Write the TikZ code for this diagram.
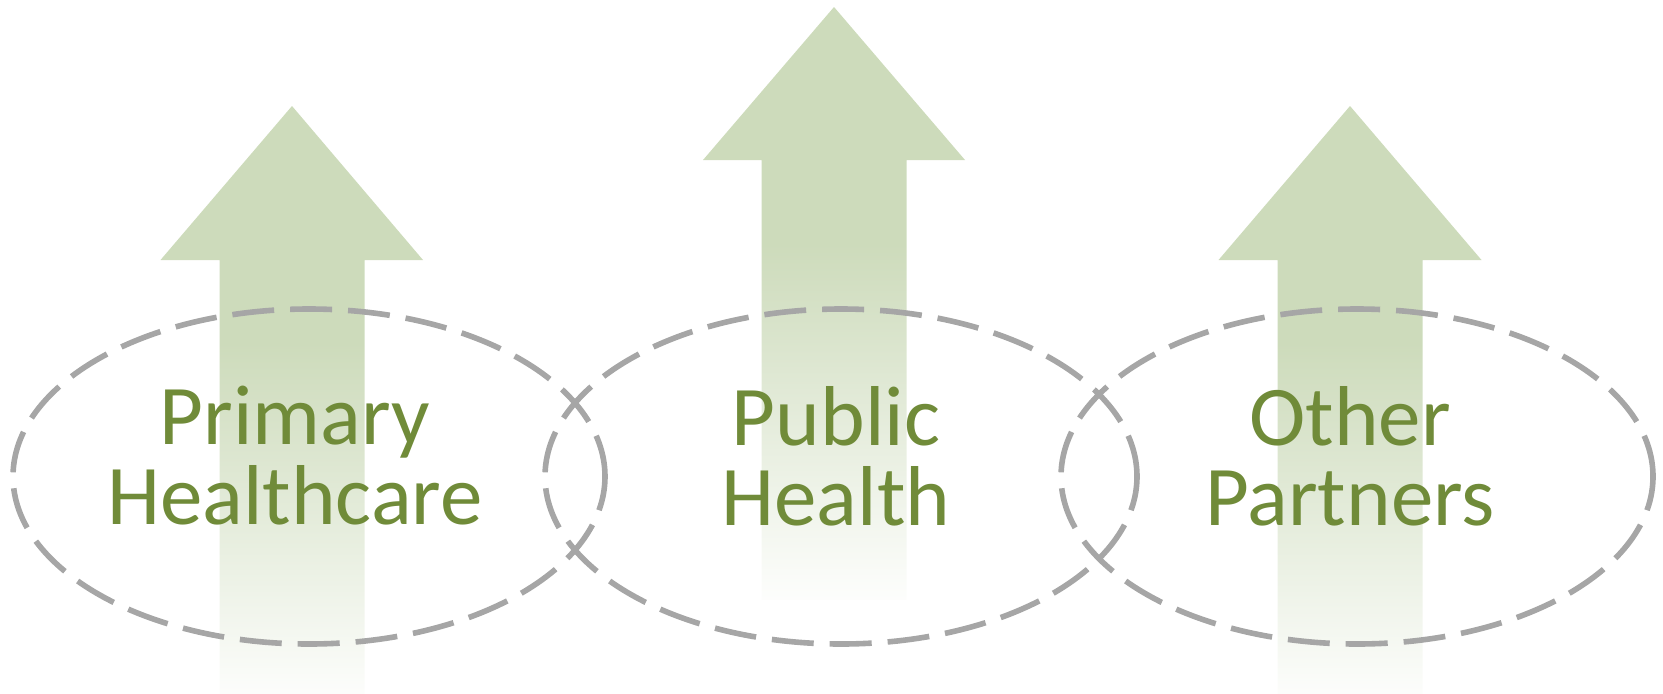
\documentclass[tikz,border=0pt]{standalone}
\usepackage{fontspec}
\setmainfont{Carlito}
\usepackage{tikz}
\usetikzlibrary{shapes.geometric}

\definecolor{arrowgreen}{RGB}{205,219,187}
\definecolor{labelgreen}{RGB}{112,139,57}
\definecolor{zonegray}{RGB}{166,166,166}
\colorlet{fadewhite}{arrowgreen!4!white}
\pgfdeclareverticalshading{greenfade}{100bp}{color(0bp)=(fadewhite); color(25bp)=(fadewhite); color(55bp)=(arrowgreen); color(100bp)=(arrowgreen)}

\begin{document}
\begin{tikzpicture}[
            x=0.5pt, y=0.5pt,
            uparrow/.style={shading=greenfade, draw=none},
            zone/.style={ellipse, draw=zonegray, line width=2.8pt, dash pattern=on 21pt off 8pt, minimum width=296pt, minimum height=167.5pt, inner sep=0pt},
            zonelabel/.style={text=labelgreen, font=\fontsize{42.5}{40}\selectfont, align=center, inner sep=0pt}
        ]

        \clip (0,0) rectangle (1663,693);

        \shade[uparrow] (219.5,-6) -- (219.5,433) -- (160.5,433) -- (292,587) -- (423,433) -- (364.5,433) -- (364.5,-6) -- cycle;
        \shade[uparrow] (761.5,93) -- (761.5,533) -- (703,533) -- (834,686) -- (965,533) -- (906.5,533) -- (906.5,93) -- cycle;
        \shade[uparrow] (1277.5,-6) -- (1277.5,433) -- (1218.5,433) -- (1350,587) -- (1481.5,433) -- (1422.5,433) -- (1422.5,-6) -- cycle;

        \node[zone] (primary) at (309,216.5) {};
        \node[zone] (public) at (841,216.5) {};
        \node[zone] (other) at (1357,216.5) {};

        \node[zonelabel] (primarytext) at (295,237) {Primary\\Healthcare};
        \node[zonelabel] (publictext) at (836,237) {Public\\Health};
        \node[zonelabel] (othertext) at (1350,237) {Other\\Partners};

    \end{tikzpicture}
\end{document}
